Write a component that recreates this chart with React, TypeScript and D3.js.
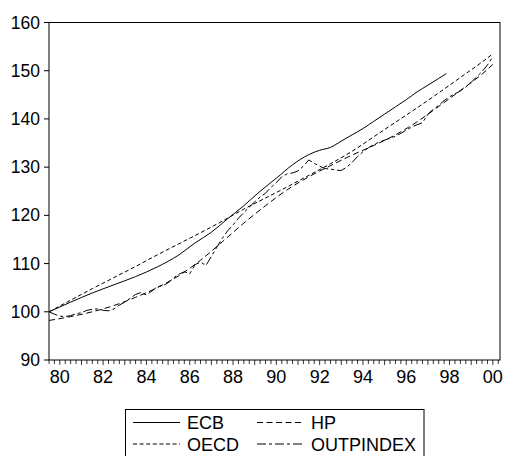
import React from "react";
import * as d3 from "d3";

// Quarterly-ish readings, [year, index value]
const ECB: [number, number][] = [
  [1979.5, 100.0], [1980.5, 102.0], [1981.5, 103.9], [1982.5, 105.6], [1983.5, 107.3],
  [1984.5, 109.3], [1985.5, 111.8], [1986.25, 114.3], [1987.0, 116.5], [1987.75, 119.3],
  [1988.5, 122.0], [1989.25, 125.0], [1990.0, 127.7], [1990.75, 130.5], [1991.5, 132.6],
  [1992.0, 133.5], [1992.5, 134.1], [1993.0, 135.4], [1993.5, 136.7], [1994.0, 138.0],
  [1994.5, 139.5], [1995.0, 141.0], [1995.5, 142.5], [1996.0, 144.0], [1996.5, 145.6],
  [1997.0, 147.0], [1997.5, 148.4], [1997.85, 149.4],
];

const HP: [number, number][] = [
  [1979.5, 98.2], [1980.5, 99.0], [1981.5, 100.0], [1982.5, 101.3], [1983.5, 103.0],
  [1984.5, 105.0], [1985.5, 107.5], [1986.5, 110.7], [1987.5, 114.5], [1988.5, 118.4],
  [1989.5, 122.0], [1990.5, 125.3], [1991.5, 128.0], [1992.5, 130.3], [1993.5, 132.5],
  [1994.5, 134.5], [1995.5, 136.7], [1996.5, 139.4], [1997.5, 142.6], [1998.5, 145.9],
  [1999.5, 149.3], [2000.0, 151.3],
];

const OECD: [number, number][] = [
  [1979.5, 100.0], [1980.5, 102.4], [1981.5, 104.8], [1982.5, 107.1], [1983.5, 109.4],
  [1984.5, 111.8], [1985.5, 114.1], [1986.5, 116.4], [1987.5, 118.8], [1988.5, 121.3],
  [1989.5, 123.6], [1990.5, 125.9], [1991.5, 128.3], [1992.5, 130.7], [1993.5, 133.3],
  [1994.5, 136.3], [1995.5, 139.3], [1996.5, 142.3], [1997.5, 145.4], [1998.5, 148.6],
  [1999.5, 151.8], [2000.0, 153.5],
];

const OUTPINDEX: [number, number][] = [
  [1979.5, 100.0], [1979.75, 99.5], [1980.0, 99.1], [1980.25, 99.0], [1980.5, 99.2],
  [1980.75, 99.6], [1981.0, 99.8], [1981.25, 100.3], [1981.5, 100.5], [1981.75, 100.6],
  [1982.0, 100.3], [1982.25, 100.2], [1982.5, 100.6], [1982.75, 101.4], [1983.0, 102.0],
  [1983.25, 102.8], [1983.5, 103.6], [1983.75, 104.0], [1984.0, 103.5], [1984.25, 104.3],
  [1984.5, 105.2], [1984.75, 105.4], [1985.0, 106.0], [1985.25, 107.0], [1985.5, 107.8],
  [1985.75, 108.3], [1986.0, 107.9], [1986.25, 109.8], [1986.5, 110.3], [1986.75, 109.6],
  [1987.0, 111.5], [1987.25, 113.4], [1987.5, 115.2], [1987.75, 116.8], [1988.0, 118.0],
  [1988.25, 119.4], [1988.5, 120.6], [1988.75, 121.7], [1989.0, 122.8], [1989.25, 123.8],
  [1989.5, 124.6], [1989.75, 125.8], [1990.0, 126.8], [1990.25, 128.0], [1990.5, 128.6],
  [1990.75, 128.8], [1991.0, 129.2], [1991.25, 130.2], [1991.5, 131.5], [1991.75, 130.8],
  [1992.0, 130.2], [1992.25, 129.7], [1992.5, 129.6], [1992.75, 129.4], [1993.0, 129.3],
  [1993.25, 130.0], [1993.5, 131.0], [1993.75, 132.2], [1994.0, 133.2], [1994.25, 134.0],
  [1994.5, 134.7], [1994.75, 135.2], [1995.0, 135.6], [1995.25, 136.0], [1995.5, 136.4],
  [1995.75, 137.0], [1996.0, 137.7], [1996.25, 138.3], [1996.5, 138.8], [1996.75, 139.2],
  [1997.0, 141.0], [1997.25, 142.0], [1997.5, 142.8], [1997.75, 143.8], [1998.0, 144.6],
  [1998.25, 145.2], [1998.5, 145.8], [1998.75, 146.6], [1999.0, 147.6], [1999.25, 148.7],
  [1999.5, 149.8], [1999.75, 151.2], [2000.0, 152.9],
];

const Y_TICKS = [90, 100, 110, 120, 130, 140, 150, 160];
const X_LABELS = [1980, 1982, 1984, 1986, 1988, 1990, 1992, 1994, 1996, 1998, 2000];

const FONT = "'Liberation Sans', Arial, sans-serif";

const series = [
  { name: "ECB", data: ECB, dash: "none", smooth: true },
  { name: "HP", data: HP, dash: "6,3.5", smooth: true },
  { name: "OECD", data: OECD, dash: "4,2.6", smooth: true },
  { name: "OUTPINDEX", data: OUTPINDEX, dash: "9,3,3,3", smooth: false },
];

export default function App() {
  const W = 506;
  const H = 456;
  const left = 49;
  const right = 500;
  const top = 22.5;
  const bottom = 360;

  const x = d3.scaleLinear().domain([1979.5, 2000.33]).range([left, right]);
  const y = d3.scaleLinear().domain([90, 160]).range([bottom, top]);

  const quarters = d3.range(1979.5, 2000.34, 0.25);

  const mkLine = (smooth: boolean) =>
    d3
      .line<[number, number]>()
      .x((d) => x(d[0]))
      .y((d) => y(d[1]))
      .curve(smooth ? d3.curveMonotoneX : d3.curveLinear);

  // legend layout
  const legendRows = [
    [series[0], series[1]],
    [series[2], series[3]],
  ];
  const legendRowY = [422.5, 444];
  const legendColX = [133, 257];

  return (
    <svg
      width={W}
      height={H}
      style={{ position: "fixed", left: 0, top: 0, background: "#fff" }}
      fontFamily={FONT}
    >
      <rect x={0} y={0} width={W} height={H} fill="#fff" />

      {/* series */}
      <g fill="none" stroke="#000" strokeWidth={1}>
        {series.map((s) => (
          <path
            key={s.name}
            d={mkLine(s.smooth)(s.data) || ""}
            strokeDasharray={s.dash === "none" ? undefined : s.dash}
          />
        ))}
      </g>

      {/* frame */}
      <rect
        x={left}
        y={top}
        width={right - left}
        height={bottom - top}
        fill="none"
        stroke="#000"
        strokeWidth={1}
      />

      {/* y axis */}
      <g>
        {Y_TICKS.map((t) => (
          <g key={t}>
            <line x1={left - 5} x2={left} y1={y(t)} y2={y(t)} stroke="#000" />
            <text x={40} y={y(t) + 6} textAnchor="end" fontSize={17.5} fill="#000">
              {t}
            </text>
          </g>
        ))}
      </g>

      {/* x axis */}
      <g>
        {quarters.map((q, i) => {
          const isYear = Math.abs(q - Math.round(q)) < 1e-6;
          return (
            <line
              key={i}
              x1={x(q)}
              x2={x(q)}
              y1={bottom}
              y2={bottom + (isYear ? 5 : 4)}
              stroke="#000"
              strokeWidth={0.8}
            />
          );
        })}
        {X_LABELS.map((yr) => (
          <text
            key={yr}
            x={x(yr)}
            y={383}
            textAnchor="middle"
            fontSize={18}
            fill="#000"
          >
            {String(yr % 100).padStart(2, "0")}
          </text>
        ))}
      </g>

      {/* legend */}
      <rect x={125.5} y={409.5} width={298.5} height={60} fill="none" stroke="#000" />
      {legendRows.map((row, ri) =>
        row.map((s, ci) => (
          <g key={s.name}>
            <line
              x1={legendColX[ci]}
              x2={legendColX[ci] + 47}
              y1={legendRowY[ri]}
              y2={legendRowY[ri]}
              stroke="#000"
              strokeDasharray={s.dash === "none" ? undefined : s.dash}
            />
            <text
              x={legendColX[ci] + 54}
              y={legendRowY[ri] + 6.5}
              fontSize={18}
              fill="#000"
            >
              {s.name}
            </text>
          </g>
        ))
      )}
    </svg>
  );
}
